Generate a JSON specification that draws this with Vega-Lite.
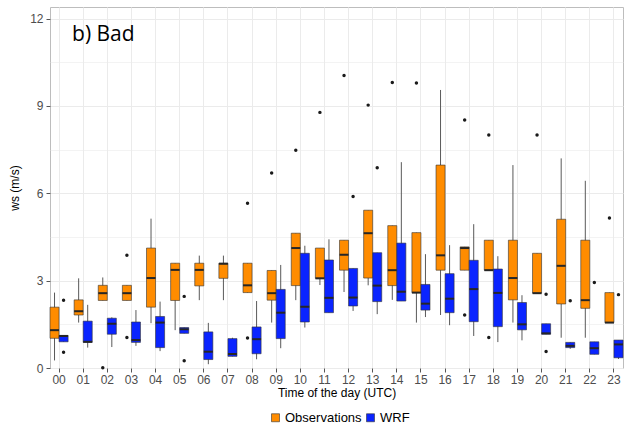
{
  "$schema": "https://vega.github.io/schema/vega-lite/v6.json",
  "width": 573,
  "height": 361,
  "padding": {"left": 8, "top": 7, "right": 5, "bottom": 5},
  "background": "white",
  "config": {
    "view": {"stroke": "#bdbdbd", "strokeWidth": 1},
    "font": "Liberation Sans",
    "axis": {"labelFont": "Liberation Sans", "titleFont": "Liberation Sans", "titleFontWeight": "normal", "labelColor": "#4d4d4d", "titleColor": "#000000", "labelFontSize": 12, "titleFontSize": 12, "tickColor": "#555555", "tickSize": 4, "domain": false, "gridColor": "#ebebeb"},
    "legend": {"labelFont": "Liberation Sans", "labelFontSize": 13, "labelColor": "#000000"}
  },
  "datasets": {
    "stats": [
      {"hour": "00", "src": "Observations", "lo": 0.26, "q1": 1.02, "med": 1.30, "q3": 2.09, "hi": 2.59},
      {"hour": "00", "src": "WRF", "lo": 0.90, "q1": 0.90, "med": 1.10, "q3": 1.12, "hi": 1.12},
      {"hour": "01", "src": "Observations", "lo": 1.56, "q1": 1.82, "med": 1.95, "q3": 2.34, "hi": 3.08},
      {"hour": "01", "src": "WRF", "lo": 0.70, "q1": 0.88, "med": 0.90, "q3": 1.61, "hi": 2.17},
      {"hour": "02", "src": "Observations", "lo": 2.32, "q1": 2.32, "med": 2.57, "q3": 2.84, "hi": 3.11},
      {"hour": "02", "src": "WRF", "lo": 0.72, "q1": 1.16, "med": 1.52, "q3": 1.71, "hi": 1.74},
      {"hour": "03", "src": "Observations", "lo": 2.32, "q1": 2.32, "med": 2.57, "q3": 2.84, "hi": 2.84},
      {"hour": "03", "src": "WRF", "lo": 0.76, "q1": 0.88, "med": 0.96, "q3": 1.58, "hi": 1.99},
      {"hour": "04", "src": "Observations", "lo": 1.54, "q1": 2.09, "med": 3.09, "q3": 4.12, "hi": 5.13},
      {"hour": "04", "src": "WRF", "lo": 0.58, "q1": 0.70, "med": 1.56, "q3": 1.77, "hi": 2.28},
      {"hour": "05", "src": "Observations", "lo": 1.30, "q1": 2.32, "med": 3.37, "q3": 3.60, "hi": 3.60},
      {"hour": "05", "src": "WRF", "lo": 1.19, "q1": 1.19, "med": 1.33, "q3": 1.39, "hi": 1.39},
      {"hour": "06", "src": "Observations", "lo": 2.33, "q1": 2.82, "med": 3.37, "q3": 3.60, "hi": 3.86},
      {"hour": "06", "src": "WRF", "lo": 0.13, "q1": 0.29, "med": 0.56, "q3": 1.24, "hi": 1.55},
      {"hour": "07", "src": "Observations", "lo": 2.33, "q1": 3.08, "med": 3.58, "q3": 3.60, "hi": 3.86},
      {"hour": "07", "src": "WRF", "lo": 0.40, "q1": 0.40, "med": 0.48, "q3": 1.01, "hi": 1.04},
      {"hour": "08", "src": "Observations", "lo": 2.59, "q1": 2.59, "med": 2.84, "q3": 3.60, "hi": 3.60},
      {"hour": "08", "src": "WRF", "lo": 0.30, "q1": 0.49, "med": 0.99, "q3": 1.41, "hi": 2.30},
      {"hour": "09", "src": "Observations", "lo": 1.56, "q1": 2.33, "med": 2.57, "q3": 3.35, "hi": 3.35},
      {"hour": "09", "src": "WRF", "lo": 0.68, "q1": 1.01, "med": 1.90, "q3": 2.70, "hi": 3.54},
      {"hour": "10", "src": "Observations", "lo": 2.33, "q1": 2.83, "med": 4.12, "q3": 4.63, "hi": 4.63},
      {"hour": "10", "src": "WRF", "lo": 1.39, "q1": 1.58, "med": 2.10, "q3": 3.94, "hi": 4.20},
      {"hour": "11", "src": "Observations", "lo": 2.85, "q1": 3.08, "med": 3.08, "q3": 4.12, "hi": 4.12},
      {"hour": "11", "src": "WRF", "lo": 1.90, "q1": 1.90, "med": 2.41, "q3": 3.71, "hi": 4.42},
      {"hour": "12", "src": "Observations", "lo": 2.61, "q1": 3.36, "med": 3.89, "q3": 4.39, "hi": 4.39},
      {"hour": "12", "src": "WRF", "lo": 1.96, "q1": 2.13, "med": 2.42, "q3": 3.42, "hi": 3.42},
      {"hour": "13", "src": "Observations", "lo": 2.84, "q1": 3.09, "med": 4.63, "q3": 5.42, "hi": 5.42},
      {"hour": "13", "src": "WRF", "lo": 1.85, "q1": 2.28, "med": 2.83, "q3": 3.96, "hi": 3.96},
      {"hour": "14", "src": "Observations", "lo": 2.34, "q1": 2.83, "med": 3.36, "q3": 4.89, "hi": 4.89},
      {"hour": "14", "src": "WRF", "lo": 2.30, "q1": 2.30, "med": 2.62, "q3": 4.29, "hi": 7.07},
      {"hour": "15", "src": "Observations", "lo": 1.56, "q1": 2.59, "med": 2.59, "q3": 4.65, "hi": 4.65},
      {"hour": "15", "src": "WRF", "lo": 1.75, "q1": 1.99, "med": 2.21, "q3": 2.87, "hi": 3.91},
      {"hour": "16", "src": "Observations", "lo": 1.82, "q1": 3.36, "med": 3.87, "q3": 6.97, "hi": 9.55},
      {"hour": "16", "src": "WRF", "lo": 1.47, "q1": 1.90, "med": 2.38, "q3": 3.24, "hi": 4.22},
      {"hour": "17", "src": "Observations", "lo": 3.36, "q1": 3.36, "med": 4.12, "q3": 4.16, "hi": 4.16},
      {"hour": "17", "src": "WRF", "lo": 1.10, "q1": 1.59, "med": 2.71, "q3": 3.70, "hi": 4.94},
      {"hour": "18", "src": "Observations", "lo": 3.36, "q1": 3.36, "med": 3.36, "q3": 4.39, "hi": 4.39},
      {"hour": "18", "src": "WRF", "lo": 0.89, "q1": 1.42, "med": 2.58, "q3": 3.40, "hi": 3.84},
      {"hour": "19", "src": "Observations", "lo": 1.56, "q1": 2.34, "med": 3.09, "q3": 4.39, "hi": 6.97},
      {"hour": "19", "src": "WRF", "lo": 0.95, "q1": 1.31, "med": 1.50, "q3": 2.25, "hi": 2.50},
      {"hour": "20", "src": "Observations", "lo": 2.57, "q1": 2.57, "med": 2.57, "q3": 3.94, "hi": 3.94},
      {"hour": "20", "src": "WRF", "lo": 1.16, "q1": 1.16, "med": 1.19, "q3": 1.52, "hi": 1.52},
      {"hour": "21", "src": "Observations", "lo": 1.04, "q1": 2.20, "med": 3.51, "q3": 5.11, "hi": 7.20},
      {"hour": "21", "src": "WRF", "lo": 0.66, "q1": 0.70, "med": 0.76, "q3": 0.88, "hi": 0.88},
      {"hour": "22", "src": "Observations", "lo": 1.04, "q1": 2.05, "med": 2.33, "q3": 4.39, "hi": 6.43},
      {"hour": "22", "src": "WRF", "lo": 0.47, "q1": 0.47, "med": 0.68, "q3": 0.90, "hi": 0.90},
      {"hour": "23", "src": "Observations", "lo": 1.56, "q1": 1.56, "med": 1.56, "q3": 2.59, "hi": 2.59},
      {"hour": "23", "src": "WRF", "lo": 0.31, "q1": 0.35, "med": 0.81, "q3": 0.96, "hi": 0.96}
    ],
    "outliers": [
      {"hour": "00", "src": "WRF", "v": 2.33},
      {"hour": "00", "src": "WRF", "v": 0.54},
      {"hour": "02", "src": "Observations", "v": 0.01},
      {"hour": "03", "src": "Observations", "v": 3.87},
      {"hour": "03", "src": "Observations", "v": 1.05},
      {"hour": "05", "src": "WRF", "v": 2.46},
      {"hour": "05", "src": "WRF", "v": 0.25},
      {"hour": "08", "src": "Observations", "v": 5.66},
      {"hour": "08", "src": "Observations", "v": 1.03},
      {"hour": "09", "src": "Observations", "v": 6.70},
      {"hour": "10", "src": "Observations", "v": 7.48},
      {"hour": "11", "src": "Observations", "v": 8.78},
      {"hour": "12", "src": "Observations", "v": 10.05},
      {"hour": "12", "src": "WRF", "v": 5.89},
      {"hour": "13", "src": "Observations", "v": 9.03},
      {"hour": "13", "src": "WRF", "v": 6.88},
      {"hour": "14", "src": "Observations", "v": 9.81},
      {"hour": "15", "src": "Observations", "v": 9.79},
      {"hour": "17", "src": "Observations", "v": 8.52},
      {"hour": "17", "src": "Observations", "v": 1.82},
      {"hour": "18", "src": "Observations", "v": 8.00},
      {"hour": "18", "src": "Observations", "v": 1.05},
      {"hour": "20", "src": "Observations", "v": 8.00},
      {"hour": "20", "src": "WRF", "v": 2.53},
      {"hour": "20", "src": "WRF", "v": 0.57},
      {"hour": "21", "src": "WRF", "v": 2.31},
      {"hour": "22", "src": "WRF", "v": 2.94},
      {"hour": "23", "src": "Observations", "v": 5.15},
      {"hour": "23", "src": "WRF", "v": 2.52}
    ],
    "panel": [{"label": "b) Bad"}]
  },
  "layer": [
    {
      "data": {"name": "stats"},
      "mark": {"type": "rule", "color": "#595959", "strokeWidth": 1},
      "encoding": {
        "x": {"field": "hour", "type": "nominal", "scale": {"paddingInner": 0.25, "paddingOuter": 0},
              "axis": {"title": "Time of the day (UTC)", "labelAngle": 0, "grid": true, "gridWidth": 1, "bandPosition": 0.5, "labelPadding": 2, "titlePadding": 2}},
        "xOffset": {"field": "src", "type": "nominal", "scale": {"paddingInner": 0, "paddingOuter": 0}},
        "y": {"field": "lo", "type": "quantitative", "scale": {"domain": [0, 12.4], "nice": false, "zero": false},
              "axis": {"title": "ws (m/s)", "values": [0, 1.5, 3, 4.5, 6, 7.5, 9, 10.5, 12], "labelExpr": "datum.value % 3 === 0 ? format(datum.value, 'd') : ''", "grid": true,
                       "gridWidth": {"condition": {"test": "datum.value % 3 === 0", "value": 1}, "value": 0.6},
                       "tickOpacity": {"condition": {"test": "datum.value % 3 === 0", "value": 1}, "value": 0},
                       "labelPadding": 3, "titlePadding": 8}},
        "y2": {"field": "hi"}
      }
    },
    {
      "data": {"name": "stats"},
      "mark": {"type": "bar", "stroke": "#333333", "strokeWidth": 0.6},
      "encoding": {
        "x": {"field": "hour", "type": "nominal"},
        "xOffset": {"field": "src", "type": "nominal"},
        "y": {"field": "q1", "type": "quantitative"},
        "y2": {"field": "q3"},
        "color": {"field": "src", "type": "nominal",
                  "scale": {"domain": ["Observations", "WRF"], "range": ["#ff8c00", "#0a24ff"]},
                  "legend": {"title": null, "orient": "none", "direction": "horizontal", "legendX": 219, "legendY": 404, "symbolType": "square", "symbolSize": 64, "symbolStrokeColor": "#333333", "symbolStrokeWidth": 0.6, "symbolOpacity": 1, "columnPadding": 2, "labelOffset": 3}}
      }
    },
    {
      "data": {"name": "stats"},
      "mark": {"type": "tick", "color": "#262626", "thickness": 2, "size": 9, "opacity": 1},
      "encoding": {
        "x": {"field": "hour", "type": "nominal"},
        "xOffset": {"field": "src", "type": "nominal"},
        "y": {"field": "med", "type": "quantitative"}
      }
    },
    {
      "data": {"name": "outliers"},
      "mark": {"type": "point", "filled": true, "color": "#1a1a1a", "size": 12, "opacity": 1},
      "encoding": {
        "x": {"field": "hour", "type": "nominal"},
        "xOffset": {"field": "src", "type": "nominal"},
        "y": {"field": "v", "type": "quantitative"}
      }
    },
    {
      "data": {"name": "panel"},
      "mark": {"type": "text", "align": "left", "baseline": "alphabetic", "dx": 13, "font": "Open Sans", "fontSize": 21, "color": "#000000"},
      "encoding": {
        "x": {"datum": "00", "type": "nominal"},
        "y": {"datum": 11.24, "type": "quantitative"},
        "text": {"field": "label"}
      }
    }
  ]
}
